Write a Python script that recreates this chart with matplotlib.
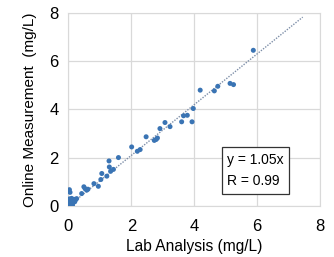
import matplotlib
matplotlib.use("Agg")
import numpy as np
import matplotlib.pyplot as plt

plt.rcParams['font.family'] = ['Liberation Sans', 'DejaVu Sans']

lab = [5.88, 4.19, 4.64, 4.75, 5.14, 5.25, 3.97, 3.66, 3.78, 3.60, 3.93,
       3.07, 2.91, 3.23, 2.47, 2.79, 2.73, 2.83, 2.28, 2.01, 2.19,
       1.59, 1.29, 1.30, 1.43, 1.34, 1.06, 1.22, 1.03, 0.81, 0.95,
       0.49, 0.58, 0.42, 0.26, 0.53, 0.62,
       0.03, 0.05, 0.0, 0.02, 0.05, 0.03, 0.08, 0.10, 0.12, 0.05, 0.15,
       0.20, 0.10, 0.18, 0.06, 0.0, 0.13, 0.22]
online = [6.45, 4.80, 4.77, 4.96, 5.08, 5.03, 4.04, 3.74, 3.76, 3.49, 3.49,
          3.46, 3.21, 3.29, 2.87, 2.76, 2.72, 2.82, 2.34, 2.45, 2.27,
          2.01, 1.87, 1.62, 1.52, 1.44, 1.35, 1.24, 1.10, 0.93, 0.82,
          0.80, 0.66, 0.52, 0.31, 0.72, 0.70,
          0.68, 0.57, 0.02, 0.10, 0.20, 0.30, 0.10, 0.25, 0.15, 0.05, 0.22,
          0.18, 0.32, 0.28, 0.12, 0.08, 0.05, 0.25]

slope = 1.05
r_value = 0.99
fit_x = [0, 7.45]

fig = plt.figure(figsize=(3.34, 2.57), dpi=100)
ax = fig.add_axes([0.205, 0.198, 0.753, 0.752])

ax.grid(True, color='#d9d9d9', linewidth=0.9)
ax.set_axisbelow(True)
ax.plot(fit_x, [slope * v for v in fit_x], linestyle=(0, (1, 1)),
        color='#7d8ea8', linewidth=1.0, zorder=2)
ax.scatter(lab, online, s=13, color='#3a74b4', edgecolors='none', zorder=3)

ax.set_xlim(0, 8)
ax.set_ylim(0, 8)
ax.set_xticks([0, 2, 4, 6, 8])
ax.set_yticks([0, 2, 4, 6, 8])
for s in ax.spines.values():
    s.set_color('#d9d9d9')
ax.tick_params(length=0, labelsize=12)
ax.tick_params(axis='x', pad=9)
ax.tick_params(axis='y', pad=7)
ax.set_xlabel('Lab Analysis (mg/L)', fontsize=11.2, labelpad=4)
ax.set_ylabel('Online Measurement  (mg/L)', fontsize=11, labelpad=9)

ax.text(5.05, 1.47, f'y = {slope:.2f}x\nR = {r_value:.2f}',
        fontsize=10, linespacing=1.7, va='center', ha='left',
        bbox=dict(boxstyle='square,pad=0.4', facecolor='white',
                  edgecolor='#333333', linewidth=0.9), zorder=4)

fig.savefig('out.png', dpi=100)
